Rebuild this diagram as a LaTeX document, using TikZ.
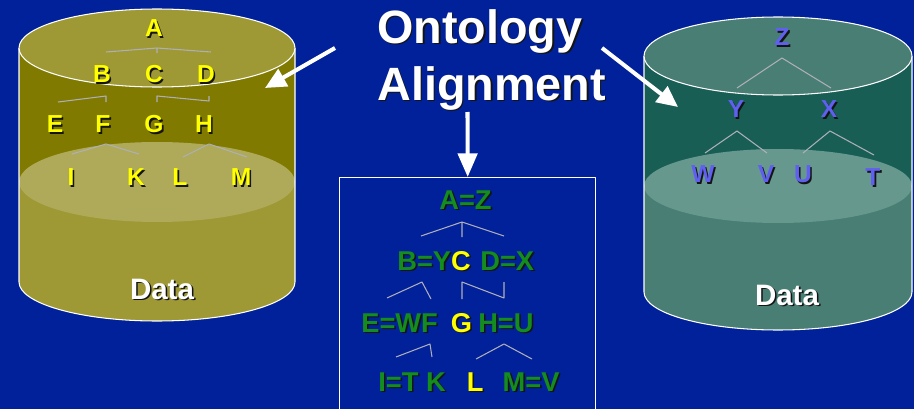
\documentclass[tikz,border=0pt]{standalone}
\usepackage{fontspec}
\setmainfont{Liberation Sans}
\usetikzlibrary{arrows.meta}

\definecolor{bgblue}{RGB}{0,33,153}
\definecolor{olivetop}{RGB}{158,153,53}
\definecolor{olivedark}{RGB}{128,122,0}
\definecolor{olivelight}{RGB}{174,170,90}
\definecolor{tealtop}{RGB}{72,126,116}
\definecolor{tealdark}{RGB}{24,94,84}
\definecolor{teallight}{RGB}{102,152,142}
\definecolor{leafyellow}{RGB}{255,255,0}
\definecolor{leafblue}{RGB}{96,96,240}
\definecolor{leafgreen}{RGB}{20,140,30}
\definecolor{linegray}{RGB}{175,175,185}
\definecolor{shadowc}{RGB}{20,20,20}

% text with a small drop shadow
\newcommand{\shd}[2]{\rlap{\kern0.9pt\raisebox{-0.9pt}{\color{shadowc}#2}}{\color{#1}#2}}

\begin{document}
\begin{tikzpicture}[x=0.02cm,y=-0.02cm,line join=round,
    letter/.style={font=\bfseries\fontsize{14}{15}\selectfont,inner sep=0pt},
    boxtext/.style={font=\bfseries\fontsize{15.5}{17}\selectfont,inner sep=0pt,anchor=base west},
    datatext/.style={font=\bfseries\fontsize{16.8}{18}\selectfont,inner sep=0pt,anchor=base},
    title/.style={font=\bfseries\fontsize{26.6}{28}\selectfont,inner sep=0pt,anchor=base west},
    tree/.style={linegray,line width=0.6pt},
    rim/.style={white,line width=0.6pt},
    bigarrow/.style={white,line width=2.3pt,-{Triangle[length=12pt,width=11pt]}}]

\fill[bgblue] (0,0) rectangle (914,409);
\useasboundingbox (0,0) rectangle (914,409);

% left cylinder
\fill[olivetop] (19,48) -- (19,282) arc[start angle=180,end angle=0,x radius=138,y radius=39] -- (295,48) -- cycle;
\fill[olivedark] (19,48) rectangle (295,182);
\fill[olivelight] (157,182) ellipse[x radius=138,y radius=40];
\draw[rim] (19,48) -- (19,282) arc[start angle=180,end angle=0,x radius=138,y radius=39] -- (295,48);
\filldraw[rim,fill=olivetop] (157,48) ellipse[x radius=138,y radius=39];

% right cylinder
\fill[tealtop] (644,56) -- (644,292) arc[start angle=180,end angle=0,x radius=134,y radius=38] -- (912,56) -- cycle;
\fill[tealdark] (644,56) rectangle (912,186);
\fill[teallight] (778,186) ellipse[x radius=134,y radius=37];
\draw[rim] (644,56) -- (644,292) arc[start angle=180,end angle=0,x radius=134,y radius=38] -- (912,56);
\filldraw[rim,fill=tealtop] (778,56) ellipse[x radius=134,y radius=39];

% left tree
\foreach \Point/\Name in {(154,29)/A, (102,75)/B, (154,75)/C, (206,75)/D,
    (55,125)/E, (103,125)/F, (154,125)/G, (204,125)/H,
    (71,178)/I, (136,178)/K, (180,178)/L, (241,178)/M}
  \node[letter] (l\Name) at \Point {\shd{leafyellow}{\Name}};
\draw[tree] (106,52) -- (157,48) -- (211,52) (157,48) -- (157,53);
\draw[tree] (58,102) -- (106,96) -- (106,102);
\draw[tree] (157,102) -- (157,96) -- (209,101) -- (209,96);
\draw[tree] (72,154) -- (106,144) -- (139,154);
\draw[tree] (183,157) -- (209,144) -- (247,157);

% right tree
\foreach \Point/\Name in {(782,38)/Z, (736,110)/Y, (829,110)/X,
    (703,175)/W, (766,175)/V, (803,175)/U, (873,178)/T}
  \node[letter] (r\Name) at \Point {\shd{leafblue}{\Name}};
\draw[tree] (737,88) -- (782,58) -- (831,88);
\draw[tree] (705,153) -- (737,131) -- (767,153);
\draw[tree] (803,153) -- (830,131) -- (874,155);

\node[datatext] (ldata) at (162,299) {\shd{white}{Data}};
\node[datatext] (rdata) at (787,305) {\shd{white}{Data}};

% title and arrows
\node[title] (onto) at (377,43) {\shd{white}{Ontology}};
\node[title] (algn) at (377,100) {\shd{white}{Alignment}};

\node[draw=white,line width=0.8pt,anchor=north west,inner sep=0pt,
    minimum width=145.7pt,minimum height=140pt] (merged) at (339,177) {};

\coordinate (lfrom) at (335,48);
\coordinate (lto) at (265,88);
\coordinate (rfrom) at (602,48);
\coordinate (rto) at (678,107);
\coordinate (dfrom) at (467.5,112);
\draw[bigarrow] (lfrom) -- (lto);
\draw[bigarrow] (rfrom) -- (rto);
\draw[bigarrow,-{Triangle[length=13.5pt,width=11pt]}] (dfrom) -- (merged.north);

% merged tree, one node per row
\node[boxtext] (row1) at (439,209) {\shd{leafgreen}{A=Z}};
\node[boxtext] (row2) at (397,270) {\shd{leafgreen}{B=Y}\shd{leafyellow}{C}\hspace{5.5pt}\shd{leafgreen}{D=X}};
\node[boxtext] (row3) at (361,332) {\shd{leafgreen}{E=WF}\hspace{7.5pt}\shd{leafyellow}{G}\hspace{3.5pt}\shd{leafgreen}{H=U}};
\node[boxtext] (row4) at (378,391) {\shd{leafgreen}{I=T K}\hspace{12pt}\shd{leafyellow}{L}\hspace{11pt}\shd{leafgreen}{M=V}};
\draw[tree] (421,236) -- (462,222) -- (504,236) (462,222) -- (462,237);
\draw[tree] (387,298) -- (422,282) -- (431,299);
\draw[tree] (462,299) -- (462,282) -- (504,298) -- (504,282);
\draw[tree] (396,357) -- (430,344) -- (432,357);
\draw[tree] (476,359) -- (504,344) -- (532,359);
\end{tikzpicture}
\end{document}
